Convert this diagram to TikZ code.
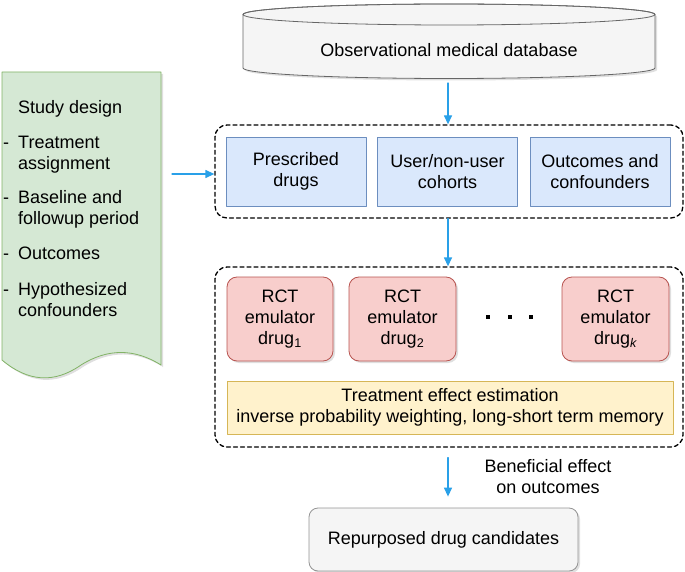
\documentclass[tikz,border=0pt]{standalone}
\usepackage{fontspec}
\setmainfont{Liberation Sans}
\usetikzlibrary{arrows.meta,shadows,calc}
\definecolor{arrowblue}{RGB}{41,160,232}
\definecolor{bluefill}{HTML}{DAE8FC}
\definecolor{blueline}{HTML}{6C8EBF}
\definecolor{redfill}{HTML}{F8CECC}
\definecolor{redline}{HTML}{B85450}
\definecolor{yellowfill}{HTML}{FFF2CC}
\definecolor{yellowline}{HTML}{D6B656}
\definecolor{greenfill}{HTML}{D5E8D4}
\definecolor{greenline}{HTML}{82B366}
\definecolor{grayfill}{HTML}{F5F5F5}
\definecolor{grayline}{HTML}{666666}
\newcommand{\dfont}{\fontsize{18}{21}\selectfont}
\newcommand{\itemdash}{\makebox[15pt][l]{-}}

\begin{document}
\begin{tikzpicture}[line cap=round,line join=round,>={Triangle[length=9pt,width=8pt]},x=1pt,y=-1pt,
    every node/.style={font=\dfont},
    shade/.style={drop shadow={shadow xshift=2pt,shadow yshift=-2pt,opacity=.25}},
    flow/.style={->,draw=arrowblue,fill=arrowblue,line width=1.3pt},
    group/.style={draw,dash pattern=on 4pt off 3pt,line width=1.3pt,rounded corners=12pt,minimum width=468pt,inner sep=0pt},
    stepbox/.style={draw=blueline,fill=bluefill,line width=.8pt,minimum width=140pt,minimum height=69pt,align=center,inner sep=0pt},
    rct/.style={draw=redline,fill=redfill,line width=.8pt,rounded corners=10pt,minimum height=84pt,align=center,inner sep=0pt,shade},
    estbox/.style={draw=yellowline,fill=yellowfill,line width=1pt,minimum width=446pt,minimum height=53pt,align=center,inner sep=0pt},
    result/.style={draw=grayline!70,fill=grayfill,line width=.8pt,rounded corners=9pt,minimum width=269pt,minimum height=63pt,inner sep=0pt,shade}]
    \useasboundingbox (0,0) rectangle (685,572);

    % database
    \path[fill=grayfill,draw=grayline,line width=.8pt,shade] (243,14.5) -- (243,68)
        arc[start angle=180,end angle=360,x radius=206pt,y radius=10.5pt] -- (655,14.5)
        arc[start angle=0,end angle=180,x radius=206pt,y radius=10.5pt] -- cycle;
    \draw[grayline,line width=.8pt] (449,14.5) ellipse [x radius=206pt,y radius=10.5pt];
    \node (db) at (449,50) {Observational medical database};
    \coordinate (dbbot) at (448,83);

    % study design
    \path[fill=greenfill,draw=greenline,line width=.8pt,shade] (2,72) -- (161,72) -- (161,365)
        .. controls (134.3,348.3) and (107.7,348.3) .. (81,365)
        .. controls (54.3,383.7) and (28,382) .. (2,360) -- cycle;
    \node[anchor=north west,align=left,inner sep=0pt] (design) at (3,100)
        {\hspace*{15pt}Study design\\[14pt]
         \itemdash Treatment\\\hspace*{15pt}assignment\\[13pt]
         \itemdash Baseline and\\\hspace*{15pt}followup period\\[14pt]
         \itemdash Outcomes\\[15pt]
         \itemdash Hypothesized\\\hspace*{15pt}confounders};
    \coordinate (designout) at (172,174);

    % data extraction
    \node[group,minimum height=93pt] (stage1) at (449,171.5) {};
    \node[stepbox] (drugs) at (296,171.5) {Prescribed\\drugs};
    \node[stepbox] (cohorts) at (447.5,171.5) {User/non-user\\cohorts};
    \node[stepbox] (covars) at (600,171.5) {Outcomes and\\confounders};

    % emulation
    \node[group,minimum height=180pt] (stage2) at (449,357) {};
    \node[rct,minimum width=106pt] (rct1) at (280,319) {RCT\\emulator\\drug\textsubscript{1}};
    \node[rct,minimum width=107pt] (rct2) at (402.5,319) {RCT\\emulator\\drug\textsubscript{2}};
    \node[rct,minimum width=107pt] (rctk) at (615.5,319) {RCT\\emulator\\drug\textsubscript{\itshape k}};
    \foreach \xd in {488,510,531}
        \fill (\xd-2,315) rectangle (\xd+2,319);
    \node[estbox] (est) at (450,407.5) {Treatment effect estimation\\inverse probability weighting, long-short term memory};

    % output
    \node[result] (cands) at (443.5,539.5) {Repurposed drug candidates};
    \node[align=center] (benefit) at (548,477) {Beneficial effect\\on outcomes};

    \draw[flow] (dbbot) -- (dbbot |- stage1.north);
    \draw[flow] (designout) -- (stage1.west |- designout);
    \draw[flow] (stage1.south -| dbbot) -- (stage2.north -| dbbot);
    \draw[flow,shorten <=10pt,shorten >=11pt] (stage2.south -| dbbot) -- (cands.north -| dbbot);
\end{tikzpicture}
\end{document}
